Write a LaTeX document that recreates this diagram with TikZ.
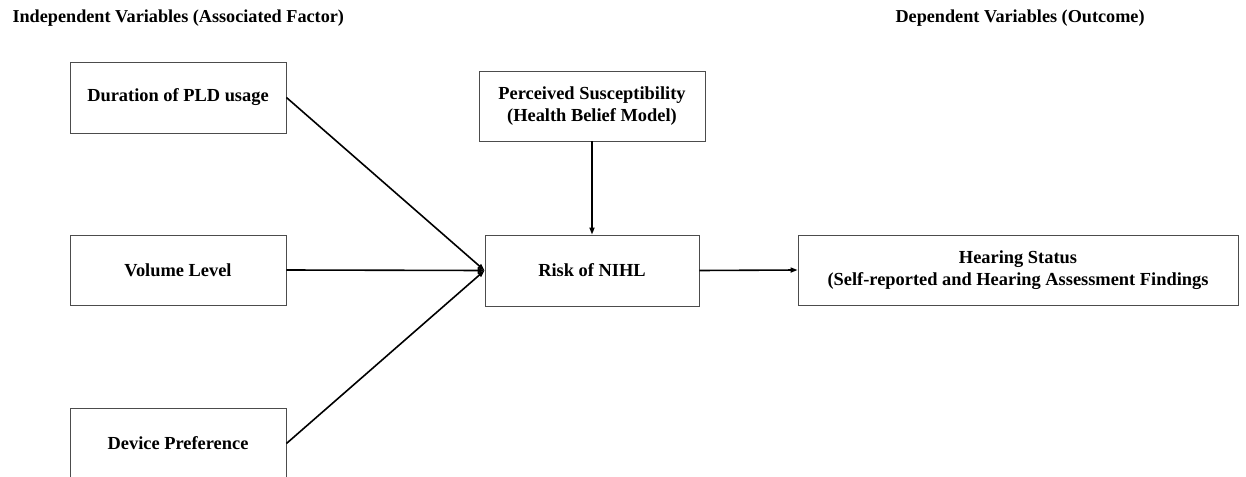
\documentclass[tikz,border=0pt]{standalone}
\usepackage{fontspec}
\setmainfont{Liberation Serif}
\usetikzlibrary{arrows.meta}

\begin{document}
\begin{tikzpicture}[x=1pt,y=-1pt,>={Triangle[length=7pt,width=5pt]},
varbox/.style={draw=black!70,line width=0.9pt,align=center,inner sep=0pt,
  font=\fontsize{18.4}{21.5}\selectfont\bfseries},
link/.style={->,line width=1.6pt}]
\useasboundingbox (0,0) rectangle (1246,476);
% The headings
\node[anchor=west,font=\fontsize{18.2}{21}\selectfont\bfseries] (indep) at (9,18) {Independent Variables (Associated Factor)};
\node[anchor=west,font=\fontsize{18.2}{21}\selectfont\bfseries] (dep) at (892,18) {Dependent Variables (Outcome)};

% The factor boxes
\node[varbox,minimum width=216,minimum height=71] (dur) at (178,97.5) {Duration of PLD usage};
\node[varbox,minimum width=216,minimum height=70] (vol) at (178,270) {Volume Level};
\node[varbox,minimum width=216,minimum height=71] (dev) at (178,443.5) {Device Preference};

% Middle and outcome
\node[varbox,minimum width=226,minimum height=70] (perc) at (592,106) {Perceived Susceptibility\\(Health Belief Model)};
\node[varbox,minimum width=214,minimum height=71] (risk) at (592,270.5) {Risk of NIHL};
\node[varbox,minimum width=440,minimum height=70] (hear) at (1018,270) {Hearing Status\\(Self-reported and Hearing Assessment Findings};

% The arrows
\draw[link] (dur.east) -- (risk.west);
\draw[link] (vol.east) -- (risk.west);
\draw[link] (dev.east) -- (risk.west);
\draw[link] (perc.south) -- (risk.north);
\draw[link] (risk.east) -- (hear.west);
\end{tikzpicture}
\end{document}
